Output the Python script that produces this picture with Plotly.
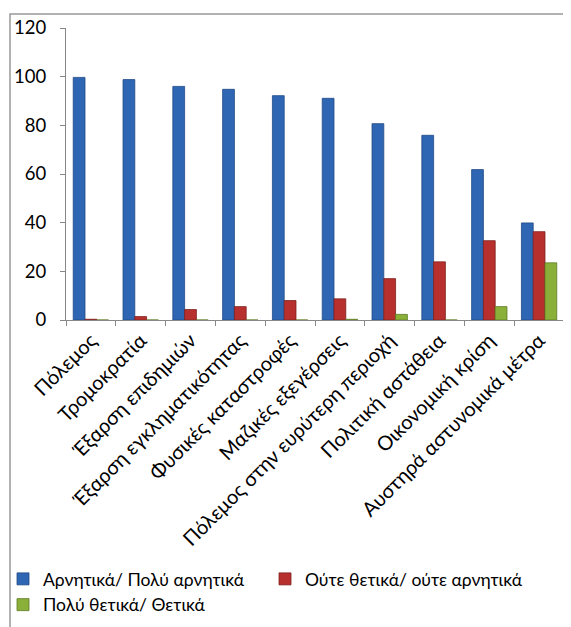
import plotly.graph_objects as go

categories = ["Πόλεμος", "Τρομοκρατία", "Έξαρση επιδημιών", "Έξαρση εγκληματικότητας",
              "Φυσικές καταστροφές", "Μαζικές εξεγέρσεις", "Πόλεμος στην ευρύτερη περιοχή",
              "Πολιτική αστάθεια", "Οικονομική κρίση", "Αυστηρά αστυνομικά μέτρα"]
negative = [99.7, 98.8, 96.0, 94.8, 92.2, 91.1, 80.7, 75.9, 61.8, 39.9]
neutral = [0.3, 1.4, 4.3, 5.5, 8.0, 8.7, 17.0, 23.9, 32.6, 36.3]
positive = [0.0, 0.0, 0.0, 0.0, 0.0, 0.3, 2.3, 0.0, 5.5, 23.5]
series_names = ["Αρνητικά/ Πολύ αρνητικά", "Ούτε θετικά/ ούτε αρνητικά", "Πολύ θετικά/ Θετικά"]
y_ticks = [0, 20, 40, 60, 80, 100, 120]

colors = ["#2F66B3", "#B8302E", "#8BB03A"]
lines = ["#1F4A85", "#7E1F1D", "#5E7A22"]
legend_ids = ["legend", "legend2", "legend"]

fig = go.Figure()
for name, vals, c, lc, lg in zip(series_names, [negative, neutral, positive], colors, lines, legend_ids):
    fig.add_trace(go.Bar(x=categories, y=vals, name=name, legend=lg,
                         marker=dict(color=c, line=dict(color=lc, width=0.8))))

# page has an 8px body margin; work in figure coordinates
OFF = 8
W, H = 563, 619
ml, mr, mt, mb = 58, 7, 20, 307
pw, ph = W - ml - mr, H - mt - mb

def px_x(x):
    return (x - ml) / pw

def px_y(y):
    return (mt + ph - y) / ph

FONT = "Lato, 'Open Sans', sans-serif"
legend_common = dict(orientation="v", yanchor="top", xanchor="left",
                     font=dict(size=17.5, family=FONT), itemwidth=30,
                     bgcolor="rgba(0,0,0,0)", traceorder="normal")

fig.update_layout(
    width=W, height=H,
    margin=dict(l=ml, r=mr, t=mt, b=mb, autoexpand=False),
    paper_bgcolor="white", plot_bgcolor="white",
    font=dict(family=FONT, size=17, color="#000000"),
    barmode="group", bargap=0.29, bargroupgap=0,
    showlegend=True,
    legend=dict(x=px_x(-5), y=px_y(553), **legend_common),
    legend2=dict(x=px_x(257), y=px_y(553), **legend_common),
    xaxis=dict(tickangle=-45, showline=True, linecolor="#888888", linewidth=1,
               ticks="outside", ticklen=5, tickcolor="#888888",
               tickson="boundaries", showgrid=False, automargin=False,
               tickfont=dict(size=20)),
    yaxis=dict(range=[0, 120], tickvals=y_ticks, showline=True, linecolor="#888888",
               linewidth=1, ticks="outside", ticklen=5, tickcolor="#888888",
               showgrid=False, zeroline=False, automargin=False,
               ticklabelstandoff=10, tickfont=dict(size=18.5)),
    shapes=[dict(type="rect", xref="paper", yref="paper",
                 x0=px_x(10 - OFF), x1=px_x(W + 5),
                 y0=px_y(H + 5), y1=px_y(14 - OFF),
                 line=dict(color="#999999", width=1.5), fillcolor="rgba(0,0,0,0)",
                 layer="below")]
)

fig.write_html("out.html")
